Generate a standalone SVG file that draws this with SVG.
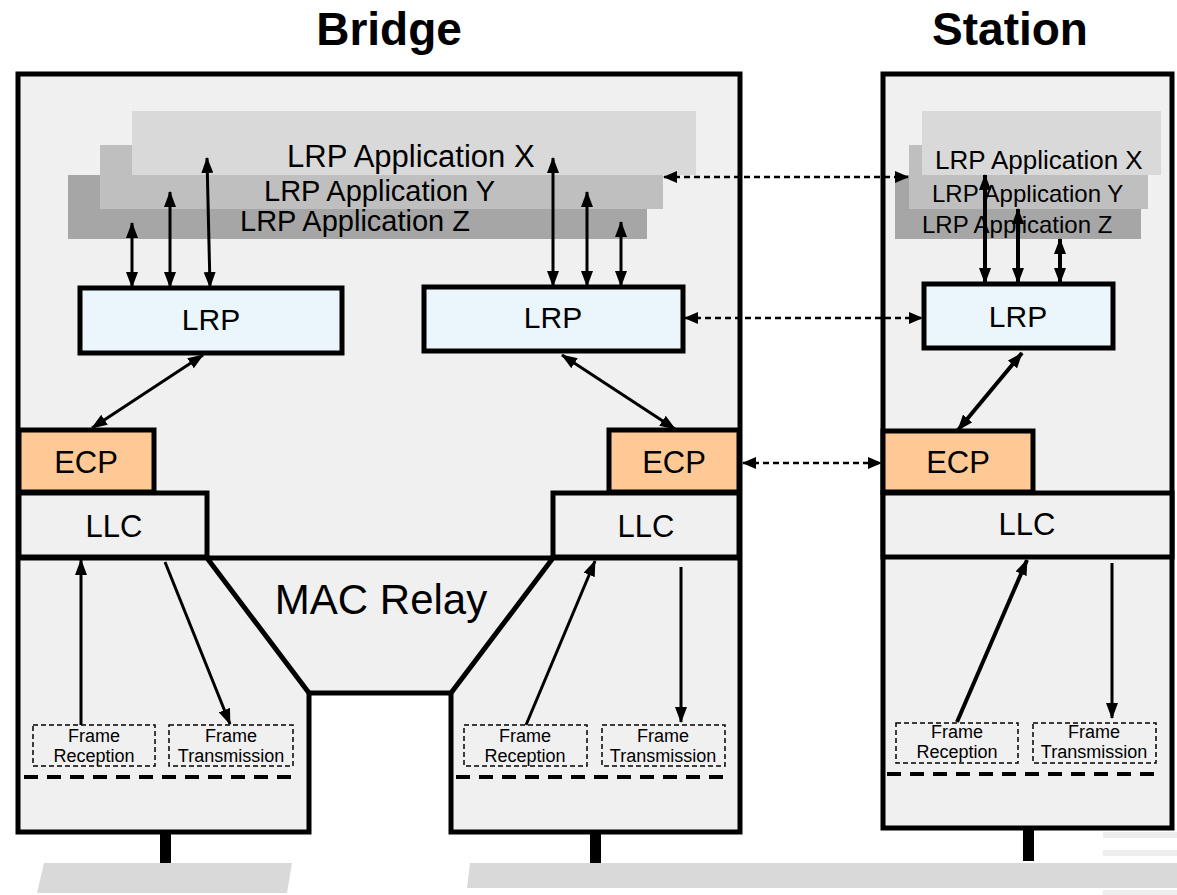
<svg xmlns="http://www.w3.org/2000/svg" width="1177" height="895" viewBox="0 0 1177 895">
<defs>
<marker id="ah" markerUnits="userSpaceOnUse" markerWidth="16" markerHeight="12" refX="15" refY="6" orient="auto-start-reverse"><path d="M0,0 L16,6 L0,12 z" fill="#000"/></marker>
<marker id="ahd" markerUnits="userSpaceOnUse" markerWidth="14" markerHeight="12" refX="13" refY="6" orient="auto-start-reverse"><path d="M0,0 L14,6 L0,12 z" fill="#000"/></marker>
<style>
.box{stroke:#000;stroke-width:5;stroke-linejoin:miter}
.bg{fill:#f0f0f0}
.lrp{fill:#ebf6fc}
.ecp{fill:#fec995}
.t{font-family:"Liberation Sans",Arial,sans-serif;fill:#000}
.c{text-anchor:middle}
.ax{fill:#d9d9d9}.ay{fill:#bfbfbf}.az{fill:#a6a6a6}
.fr{fill:none;stroke:#000;stroke-width:1.5;stroke-dasharray:5 3}
.td{fill:none;stroke:#000;stroke-width:4;stroke-dasharray:14 9}
.a{stroke:#000;stroke-width:3;fill:none;marker-end:url(#ah)}
.a2{stroke:#000;stroke-width:3;fill:none;marker-start:url(#ah);marker-end:url(#ah)}
.a2s{stroke:#000;stroke-width:4;fill:none;marker-start:url(#ah);marker-end:url(#ah)}
.d2{stroke:#000;stroke-width:2.5;stroke-dasharray:6 4;fill:none;marker-start:url(#ahd);marker-end:url(#ahd)}
.lan{fill:#d9d9d9}
</style>
</defs>
<rect width="1177" height="895" fill="#fff"/>
<g id="titles">
<text class="t c" x="389" y="45" font-size="46" font-weight="bold">Bridge</text>
<text class="t c" x="1010" y="45" font-size="46" font-weight="bold">Station</text>
</g>
<g id="lans">
<polygon class="lan" points="44,863 292,863 287,893 37,893"/>
<polygon class="lan" points="470,863 1177,863 1177,888 467,888"/>
<rect x="1103" y="832" width="74" height="6" fill="#ececec"/>
<rect x="1103" y="850" width="74" height="6" fill="#eeeeee"/>
<rect x="1103" y="890" width="74" height="5" fill="#eeeeee"/>
<rect x="160" y="832" width="11" height="31" fill="#000"/>
<rect x="590" y="832" width="11" height="31" fill="#000"/>
<rect x="1023" y="828" width="11" height="33" fill="#000"/>
</g>
<g id="bridge">
<polygon class="box bg" points="18,74 740,74 740,832 451,832 451,693 309,693 309,832 18,832"/>
<path d="M18,558 H740 M207,558 L309,693 M553,558 L451,693" stroke="#000" stroke-width="5" fill="none"/>
<text class="t c" x="381" y="614" font-size="42">MAC Relay</text>
</g>
<g id="bridge-apps">
<rect class="az" x="68" y="175" width="579" height="64"/>
<rect class="ay" x="100" y="145" width="563" height="64"/>
<rect class="ax" x="132" y="111" width="564" height="64"/>
<text class="t" x="287" y="167" font-size="31">LRP Application X</text>
<text class="t" x="264" y="201" font-size="29">LRP Application Y</text>
<text class="t" x="240" y="231" font-size="29">LRP Application Z</text>
</g>
<g id="bridge-lrp-left">
<rect class="box lrp" x="80" y="288" width="262" height="65"/>
<text class="t c" x="211" y="330" font-size="30">LRP</text>
</g>
<g id="bridge-lrp-right">
<rect class="box lrp" x="424" y="287" width="259" height="64"/>
<text class="t c" x="553" y="328" font-size="30">LRP</text>
</g>
<g id="bridge-ecp-left">
<rect class="box ecp" x="19" y="430" width="135" height="62"/>
<text class="t c" x="86" y="473" font-size="31">ECP</text>
</g>
<g id="bridge-llc-left">
<rect class="box bg" x="19" y="493" width="188" height="64"/>
<text class="t c" x="114" y="537" font-size="31">LLC</text>
</g>
<g id="bridge-ecp-right">
<rect class="box ecp" x="609" y="430" width="130" height="62"/>
<text class="t c" x="674" y="473" font-size="31">ECP</text>
</g>
<g id="bridge-llc-right">
<rect class="box bg" x="553" y="493" width="186" height="64"/>
<text class="t c" x="646" y="537" font-size="31">LLC</text>
</g>
<g id="bridge-frames">
<rect class="fr" x="33" y="725" width="122" height="41"/>
<text class="t c" x="94" y="742" font-size="18">Frame</text>
<text class="t c" x="94" y="762" font-size="18">Reception</text>
<rect class="fr" x="169" y="725" width="124" height="41"/>
<text class="t c" x="231" y="742" font-size="18">Frame</text>
<text class="t c" x="231" y="762" font-size="18">Transmission</text>
<rect class="fr" x="464" y="725" width="123" height="41"/>
<text class="t c" x="525" y="742" font-size="18">Frame</text>
<text class="t c" x="525" y="762" font-size="18">Reception</text>
<rect class="fr" x="602" y="725" width="123" height="41"/>
<text class="t c" x="663" y="742" font-size="18">Frame</text>
<text class="t c" x="663" y="762" font-size="18">Transmission</text>
<path class="td" d="M24,777 H298 M456,777 H731"/>
</g>
<g id="station">
<rect class="box bg" x="883" y="74" width="289" height="754"/>
</g>
<g id="station-apps">
<rect class="az" x="895" y="175" width="246" height="64"/>
<rect class="ay" x="909" y="145" width="239" height="64"/>
<rect class="ax" x="922" y="111" width="239" height="64"/>
<text class="t" x="935" y="169" font-size="26">LRP Application X</text>
<text class="t" x="932" y="202" font-size="24">LRP Application Y</text>
<text class="t" x="922" y="233" font-size="24">LRP Application Z</text>
</g>
<g id="station-lrp">
<rect class="box lrp" x="924" y="284" width="189" height="64"/>
<text class="t c" x="1018" y="327" font-size="30">LRP</text>
</g>
<g id="station-ecp">
<rect class="box ecp" x="883" y="431" width="150" height="61"/>
<text class="t c" x="958" y="473" font-size="31">ECP</text>
</g>
<g id="station-llc">
<rect class="box bg" x="883" y="493" width="289" height="64"/>
<text class="t c" x="1027" y="535" font-size="31">LLC</text>
</g>
<g id="station-frames">
<rect class="fr" x="896" y="723" width="122" height="40"/>
<text class="t c" x="957" y="738" font-size="18">Frame</text>
<text class="t c" x="957" y="758" font-size="18">Reception</text>
<rect class="fr" x="1033" y="723" width="123" height="40"/>
<text class="t c" x="1094" y="738" font-size="18">Frame</text>
<text class="t c" x="1094" y="758" font-size="18">Transmission</text>
<path class="td" d="M887,774 H1162"/>
</g>
<g id="connectors">
<line class="a2" x1="132" y1="223" x2="132" y2="287"/>
<line class="a2" x1="170" y1="192" x2="170" y2="287"/>
<line class="a2" x1="207" y1="158" x2="210" y2="287"/>
<line class="a2" x1="553" y1="158" x2="553" y2="286"/>
<line class="a2" x1="587" y1="192" x2="587" y2="286"/>
<line class="a2" x1="621" y1="222" x2="621" y2="286"/>
<line class="a2s" x1="985" y1="175" x2="985" y2="283"/>
<line class="a2s" x1="1018" y1="209" x2="1018" y2="283"/>
<line class="a2s" x1="1060" y1="239" x2="1060" y2="283"/>
<line class="a2" x1="203" y1="355" x2="92" y2="428"/>
<line class="a2" x1="562" y1="355" x2="675" y2="429"/>
<line class="a2s" x1="1022" y1="353" x2="958" y2="430"/>
<line class="a" x1="81" y1="725" x2="81" y2="560"/>
<line class="a" x1="165" y1="562" x2="230" y2="724"/>
<line class="a" x1="526" y1="725" x2="595" y2="561"/>
<line class="a" x1="681" y1="567" x2="681" y2="722"/>
<line class="a2s" x1="957" y1="722" x2="1027" y2="560" style="marker-start:none"/>
<line class="a" x1="1112" y1="563" x2="1112" y2="718"/>
<line class="d2" x1="664" y1="177" x2="908" y2="177"/>
<line class="d2" x1="685" y1="318" x2="922" y2="318"/>
<line class="d2" x1="743" y1="463" x2="881" y2="463"/>
</g>
</svg>
